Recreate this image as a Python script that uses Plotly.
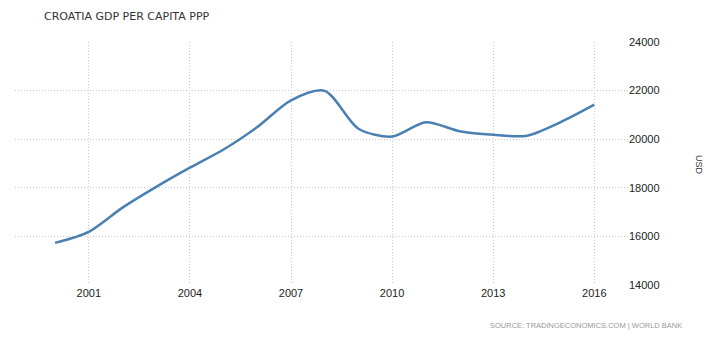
import plotly.graph_objects as go

years = list(range(2000, 2017))
gdp_ppp = [15735, 16190, 17185, 18040, 18830, 19575, 20500, 21600, 21990,
           20430, 20110, 20700, 20330, 20180, 20140, 20700, 21420]
x_ticks = [2001, 2004, 2007, 2010, 2013, 2016]
y_ticks = [14000, 16000, 18000, 20000, 22000, 24000]

fig = go.Figure()
fig.add_trace(go.Scatter(
    x=years, y=gdp_ppp, mode="lines",
    line=dict(color="#4a80b2", width=2.5, shape="spline", smoothing=0.8),
    hoverinfo="x+y", showlegend=False,
))

grid = dict(showgrid=True, gridcolor="#c8c8c8", griddash="1px,2px", gridwidth=1,
            zeroline=False, showline=False, ticks="", automargin=False)
fig.update_xaxes(range=[1998.81, 2017.0], tickvals=x_ticks,
                 ticktext=[str(v) for v in x_ticks], **grid,
                 tickfont=dict(family="Liberation Sans, Arial", size=11, color="#222"))
fig.update_yaxes(range=[14000, 24000], tickvals=y_ticks,
                 ticktext=[str(v) for v in y_ticks], side="right", **grid,
                 tickfont=dict(family="Liberation Sans, Arial", size=11, color="#222"))

# page has an 8px body margin, so the figure is 707x349 placed at (8,8)
fig.update_layout(
    width=707, height=349, autosize=False,
    margin=dict(l=7, r=87, t=34, b=72, pad=0),
    plot_bgcolor="white", paper_bgcolor="white",
    annotations=[
        dict(text="CROATIA GDP PER CAPITA PPP", xref="paper", yref="paper",
             x=(42 - 15) / 613, y=1 + (42 - 16) / 243, xanchor="left", yanchor="middle",
             showarrow=False, font=dict(family="DejaVu Sans, Verdana", size=11, color="#333")),
        dict(text="USD", xref="paper", yref="paper", textangle=90,
             x=(699 - 15) / 613, y=(285 - 165) / 243, xanchor="center", yanchor="middle",
             showarrow=False, font=dict(family="Liberation Sans, Arial", size=9, color="#333")),
        dict(text="SOURCE: TRADINGECONOMICS.COM | WORLD BANK", xref="paper", yref="paper",
             x=(684 - 15) / 613, y=-(325 - 285) / 243, xanchor="right", yanchor="middle",
             showarrow=False, font=dict(family="Liberation Sans, Arial", size=7.5, color="#999")),
    ],
)

fig.write_html("out.html")
